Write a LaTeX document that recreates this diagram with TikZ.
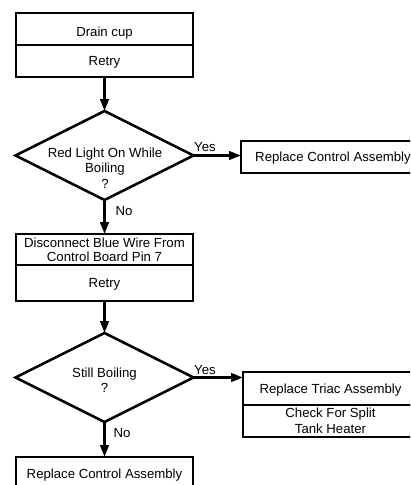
\documentclass[tikz,border=0pt]{standalone}
\usepackage{fontspec}
\setmainfont{Liberation Sans}
\usetikzlibrary{arrows.meta,shapes.geometric}
\begin{document}
\begin{tikzpicture}[x=1pt,y=-1pt,
  txt/.style={font=\fontsize{13.2}{15.5}\selectfont,align=center,inner sep=0pt},
  cell/.style={txt,draw,line width=2.6pt,inner sep=0pt,outer sep=0pt,anchor=north},
  one/.style={text height=9.5pt,text depth=0pt},
  diam/.style={diamond,draw,line width=2.6pt,inner sep=0pt,outer sep=0pt,minimum width=178pt,minimum height=89pt},
  arr/.style={line width=2.6pt,-{Triangle[length=12pt,width=8.5pt]}},
  lbl/.style={font=\fontsize{13.2}{15.5}\selectfont,inner sep=0pt}]
\useasboundingbox (0,0) rectangle (410,485);
\clip (0,0) rectangle (410,485);
% first box
\node[cell,minimum width=177pt,minimum height=32pt,text height=15.5pt,text depth=0pt] (a1) at (104.5,13) {Drain cup};
\node[cell,one,minimum width=177pt,minimum height=32pt] (a2) at (104.5,45) {Retry};
% first diamond
\node[diam] (d1) at (104.5,155.5) {};
\node[txt] (d1t) at (105,168) {Red Light On While\\Boiling\\?};
% right box 1
\node[cell,one,minimum width=184pt,minimum height=32pt] (r1) at (333,141) {Replace Control Assembly};
% second box
\node[cell,minimum width=177pt,minimum height=31pt,font=\fontsize{13.2}{14}\selectfont] (b1) at (104.5,234) {Disconnect Blue Wire From\\Control Board Pin 7};
\node[cell,one,minimum width=177pt,minimum height=36pt] (b2) at (104.5,265) {Retry};
% second diamond
\node[diam] (d2) at (104.5,377.5) {};
\node[txt] (d2t) at (104.5,380) {Still Boiling\\?};
% right box 2
\node[cell,one,minimum width=175pt,minimum height=33pt] (r2) at (330.5,372) {Replace Triac Assembly};
\node[cell,minimum width=175pt,minimum height=32pt] (r3) at (330.5,405) {Check For Split\\Tank Heater};
% bottom box
\node[cell,one,minimum width=177pt,minimum height=34pt] (e1) at (104.5,457) {Replace Control Assembly};
% connectors
\draw[arr] (a2.south) -- (d1.north);
\draw[arr] (d1.south) -- (b1.north);
\draw[arr] (d1.east) -- (d1.east -| r1.west);
\draw[arr] (b2.south) -- (d2.north);
\draw[arr] (d2.south) -- (e1.north);
\draw[arr] (d2.east) -- (d2.east -| r2.west);
% labels
\node[lbl] (y1) at (205,147) {Yes};
\node[lbl] (n1) at (124,211) {No};
\node[lbl] (y2) at (205,370) {Yes};
\node[lbl] (n2) at (122,433) {No};
\end{tikzpicture}
\end{document}
